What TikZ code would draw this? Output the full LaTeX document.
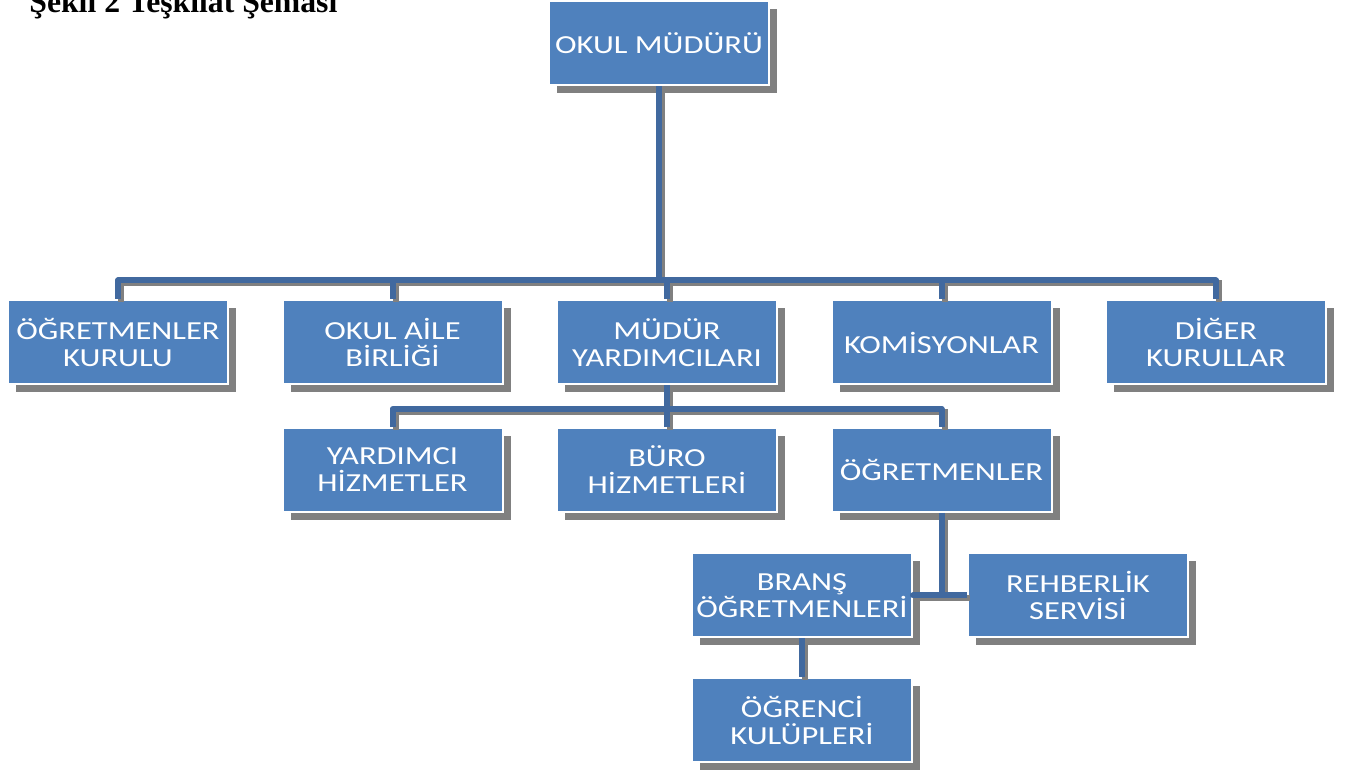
\documentclass[tikz,border=0pt]{standalone}
\usepackage{fontspec}
\usetikzlibrary{shadows}
\newfontfamily\boxfont[FakeStretch=1.25]{Carlito}
\newfontfamily\titlefont{Liberation Serif}
\definecolor{boxblue}{HTML}{4F81BD}
\definecolor{linkblue}{HTML}{41699F}
\definecolor{shadegray}{HTML}{808080}
\tikzset{
  box/.style={rectangle, fill=boxblue, draw=white, line width=1pt,
    minimum width=110pt, minimum height=42pt, inner sep=0pt, align=center,
    text=white, font=\boxfont\fontsize{13}{13.5}\selectfont,
    drop shadow={shadow xshift=4pt, shadow yshift=-4pt, fill=shadegray, opacity=1}},
  link/.style={draw=linkblue, line width=3pt, line join=round,
    preaction={draw=shadegray, line width=3pt, transform canvas={shift={(1.5pt,-1.5pt)}}}},
  heading/.style={font=\titlefont\bfseries\fontsize{15.85}{19}\selectfont, inner sep=0pt},
}
\begin{document}
\begin{tikzpicture}[x=0.5pt, y=-0.5pt, node distance=137.25pt]
    \useasboundingbox (0,0) rectangle (1345,774);
    \node[heading, anchor=base west] (T) at (29,12.7) {Şekil 2 Teşkilat Şeması};

    \node[box] (MD) at (659,43.5) {OKUL MÜDÜRÜ};
    \node[box] (MY) [node distance=149.5pt, below of=MD, xshift=4pt] {MÜDÜR\\YARDIMCILARI};
    \node[box] (OAB) [left of=MY] {OKUL AİLE\\BİRLİĞİ};
    \node[box] (OK) [left of=OAB] {ÖĞRETMENLER\\KURULU};
    \node[box] (KOM) [right of=MY] {KOMİSYONLAR};
    \node[box] (DK) [right of=KOM] {DİĞER\\KURULLAR};

    \node[box] (YH) [node distance=63.75pt, below of=OAB] {YARDIMCI\\HİZMETLER};
    \node[box] (BH) [node distance=63.75pt, below of=MY] {BÜRO\\HİZMETLERİ};
    \node[box] (OGR) [node distance=63.75pt, below of=KOM] {ÖĞRETMENLER};

    \node[box] (BO) [node distance=62.75pt, below of=OGR, xshift=-69.75pt] {BRANŞ\\ÖĞRETMENLERİ};
    \node[box] (RS) [node distance=138pt, right of=BO] {REHBERLİK\\SERVİSİ};
    \node[box] (OKL) [node distance=62.5pt, below of=BO] {ÖĞRENCİ\\KULÜPLERİ};

    \draw[link] (MD.south) |- ([yshift=9.5pt]OK.north) -- (OK.north)
      (MD.south) |- ([yshift=9.5pt]DK.north) -- (DK.north)
      ([yshift=9.5pt]OAB.north) -- (OAB.north)
      ([yshift=9.5pt]MY.north) -- (MY.north)
      ([yshift=9.5pt]KOM.north) -- (KOM.north);
    \draw[link] (MY.south) -- (BH.north)
      (YH.north) -- ([yshift=9pt]YH.north) -| (OGR.north);
    \draw[link] (OGR.south) |- (BO.east) -- (RS.west);
    \draw[link] (BO) -- (OKL);
  \end{tikzpicture}
\end{document}
